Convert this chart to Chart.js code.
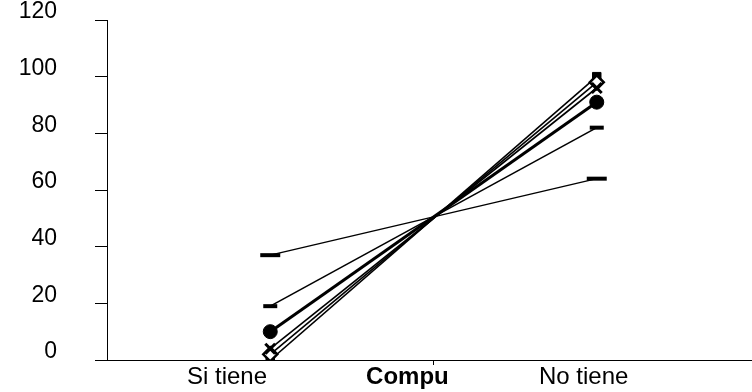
<!DOCTYPE html>
<html>
<head>
<meta charset="utf-8">
<script src="https://cdn.jsdelivr.net/npm/chart.js@4.4.1/dist/chart.umd.min.js"></script>
<style>
  html, body { margin: 0; padding: 0; background: #fff; overflow: hidden; }
  canvas { display: block; }
</style>
</head>
<body>
<canvas id="c" width="760" height="392"></canvas>
<script>
// Percentages for "Si tiene" (x = 1) and "No tiene" (x = 3)
const groupPositions = [1, 3];
const serie1 = [37, 64];
const serie2 = [19, 82];
const serie3 = [10, 91];
const serie4 = [4, 96];
const serie5 = [2, 98];
const serie6 = [0, 100];

// Bottom axis labels and where they sit on the horizontal scale
const xTickValues = [0.735, 1.84, 2, 2.92];
const xTickLabels = ['Si tiene', 'Compu', '', 'No tiene'];
const yTicks = [0, 20, 40, 60, 80, 100, 120];

const FONT = "'Liberation Sans', Arial, sans-serif";

function toPoints(values) {
  return values.map((v, i) => ({ x: groupPositions[i], y: v }));
}

function series(values, style) {
  return Object.assign({
    data: toPoints(values),
    borderColor: '#000',
    pointBorderColor: '#000',
    pointBackgroundColor: '#000',
    fill: false,
    tension: 0
  }, style);
}

const datasets = [
  series(serie1, { borderWidth: 1.4, pointStyle: 'line', pointRadius: 10, pointBorderWidth: 4 }),
  series(serie2, { borderWidth: 1.6, pointStyle: 'line', pointRadius: 7, pointBorderWidth: 4 }),
  series(serie3, { borderWidth: 3, pointStyle: 'circle', pointRadius: 7, pointBorderWidth: 1 }),
  series(serie4, { borderWidth: 1.6, pointStyle: 'crossRot', pointRadius: 7, pointBorderWidth: 3 }),
  series(serie5, { borderWidth: 1.6, pointStyle: 'rectRot', pointRadius: 7, pointBorderWidth: 2.5, pointBackgroundColor: '#fff' }),
  series(serie6, { borderWidth: 1.6, pointStyle: 'rect', pointRadius: 6, pointBorderWidth: 1 })
];

// Keep the plot edges fixed: no extra room reserved for overhanging labels
function noOverhang(scale) {
  scale.paddingTop = 0;
  scale.paddingBottom = 0;
  scale.paddingLeft = 0;
  scale.paddingRight = 0;
}

new Chart(document.getElementById('c'), {
  type: 'line',
  data: { datasets },
  options: {
    responsive: false,
    animation: false,
    layout: { autoPadding: false, padding: { top: 20, right: 0, left: 0, bottom: 0 } },
    plugins: { legend: { display: false }, tooltip: { enabled: false } },
    elements: { point: { hitRadius: 0 } },
    scales: {
      x: {
        type: 'linear',
        min: 0,
        max: 4,
        afterBuildTicks: (scale) => { scale.ticks = xTickValues.map(v => ({ value: v })); },
        afterFit: (scale) => { scale.height = 32; noOverhang(scale); },
        border: { display: true, color: '#000', width: 1 },
        grid: {
          drawOnChartArea: false,
          drawTicks: true,
          tickLength: 5,
          tickColor: (ctx) => (ctx.tick && ctx.tick.value === 2 ? '#000' : 'rgba(0,0,0,0)')
        },
        ticks: {
          autoSkip: false,
          maxRotation: 0,
          padding: -2,
          color: '#000',
          font: (ctx) => ({
            family: FONT,
            size: 24,
            weight: ctx.tick && ctx.tick.label === 'Compu' ? 'bold' : 'normal'
          }),
          callback: (value, index) => xTickLabels[index]
        }
      },
      y: {
        min: 0,
        max: 120,
        afterBuildTicks: (scale) => { scale.ticks = yTicks.map(v => ({ value: v })); },
        afterFit: (scale) => { scale.width = 107; noOverhang(scale); },
        border: { display: true, color: '#000', width: 1 },
        grid: {
          drawOnChartArea: false,
          drawTicks: true,
          tickLength: 12,
          color: '#000'
        },
        ticks: {
          padding: 38,
          labelOffset: -8,
          color: '#000',
          font: { family: FONT, size: 23 }
        }
      }
    }
  }
});
</script>
</body>
</html>
